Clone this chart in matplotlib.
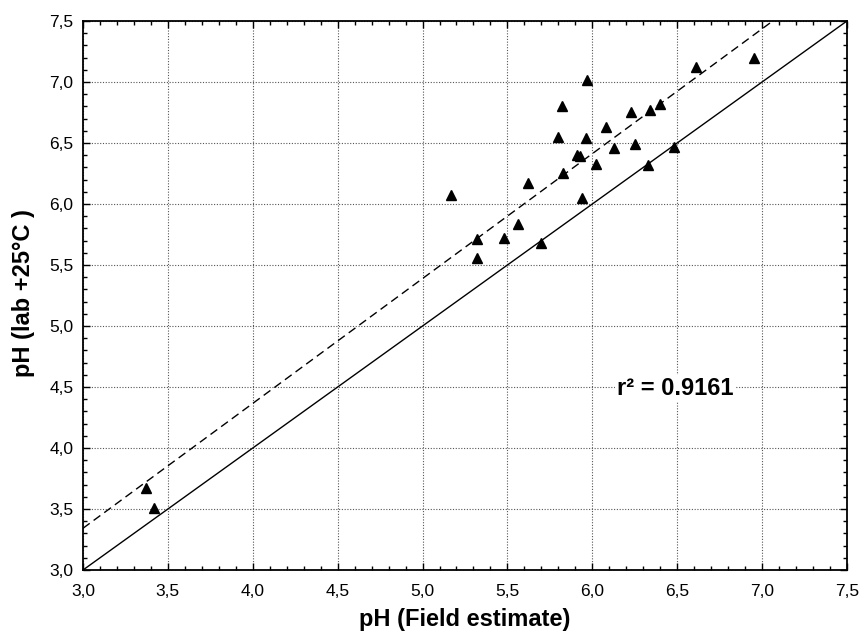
import matplotlib
matplotlib.use("Agg")
import matplotlib.pyplot as plt
import numpy as np
from matplotlib.ticker import MultipleLocator, FuncFormatter

plt.rcParams['font.family'] = ['Liberation Sans', 'DejaVu Sans']

# Data
field_ph = [3.37, 3.42, 5.17, 5.32, 5.32, 5.48, 5.56, 5.62, 5.70, 5.80, 5.82, 5.83,
            5.91, 5.93, 5.94, 5.96, 5.97, 6.02, 6.08, 6.13, 6.23, 6.25, 6.33, 6.34,
            6.40, 6.48, 6.61, 6.95]
lab_ph = [3.67, 3.51, 6.07, 5.71, 5.56, 5.72, 5.84, 6.17, 5.68, 6.55, 6.80, 6.25,
          6.40, 6.39, 6.05, 6.54, 7.02, 6.33, 6.63, 6.46, 6.75, 6.49, 6.32, 6.77,
          6.82, 6.47, 7.12, 7.20]

fit_intercept = 0.272
fit_slope = 1.0234
r2_text = "r² = 0.9161"

x_range = [3.0, 7.5]
tick_values = [3.0, 3.5, 4.0, 4.5, 5.0, 5.5, 6.0, 6.5, 7.0, 7.5]

fig = plt.figure(figsize=(8.59, 6.34), dpi=100)
ax = fig.add_axes([0.0966, 0.1009, 0.8894, 0.8660])

xx = np.array(x_range)
ax.plot(xx, xx, color='black', lw=1.0, zorder=2)
ax.plot(xx, fit_intercept + fit_slope * xx, color='black', lw=1.0,
        dashes=(6, 3.5), zorder=2)
ax.plot(field_ph, lab_ph, linestyle='none', marker='^', ms=6.5,
        color='black', zorder=3)

ax.set_xlim(x_range)
ax.set_ylim(x_range)
ax.set_xticks(tick_values)
ax.set_yticks(tick_values)
ax.xaxis.set_minor_locator(MultipleLocator(0.1))
ax.yaxis.set_minor_locator(MultipleLocator(0.1))
fmt = FuncFormatter(lambda v, p: f"{v:.1f}".replace('.', ','))
ax.xaxis.set_major_formatter(fmt)
ax.yaxis.set_major_formatter(fmt)
ax.tick_params(which='both', direction='in', top=True, right=True,
               labelsize=12.5, width=1.0, color='black')
ax.tick_params(which='major', length=5)
ax.tick_params(which='minor', length=3)
ax.tick_params(axis='x', which='major', pad=10)
ax.tick_params(axis='y', which='major', pad=7)
ax.grid(True, which='major', linestyle=(0, (1, 1.5)), color='#555555', lw=0.8)
ax.set_axisbelow(True)
for s in ax.spines.values():
    s.set_linewidth(1.3)

ax.set_xlabel("pH (Field estimate)", fontsize=17, fontweight='bold')
ax.xaxis.set_label_coords(0.5, -0.091)
ax.xaxis.label.set_verticalalignment('center')
ax.set_ylabel("pH (lab +25°C )", fontsize=17, fontweight='bold')
ax.yaxis.set_label_coords(-0.0772, 0.504)
ax.yaxis.label.set_verticalalignment('center')

ax.text(6.145, 4.49, r2_text, fontsize=17, fontweight='bold', ha='left',
        va='center', bbox=dict(facecolor='white', edgecolor='none', pad=1.5),
        zorder=4)

fig.savefig("out.png", dpi=100)
